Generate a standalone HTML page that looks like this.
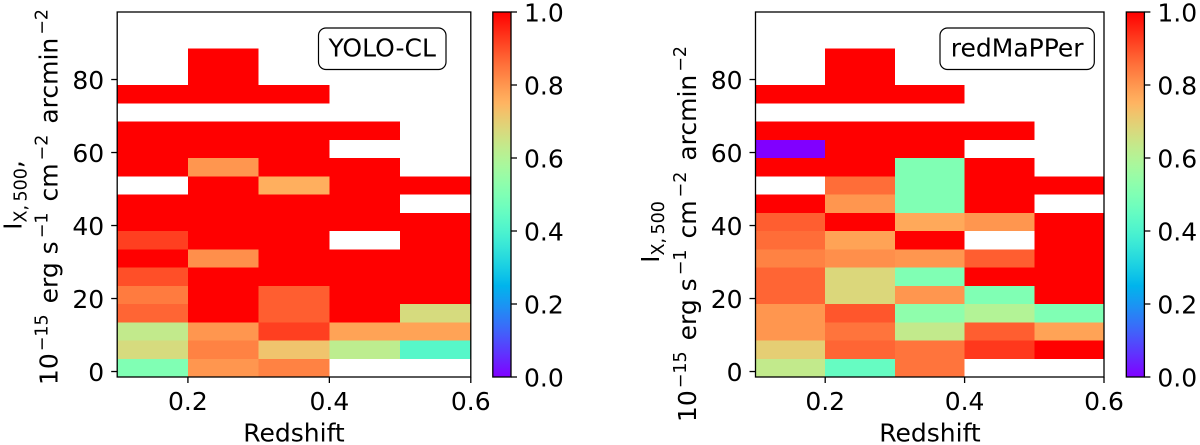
<!DOCTYPE html>
<html lang="en">
<head>
<meta charset="utf-8">
<title>Completeness heatmaps</title>
<style>
html,body{margin:0;padding:0;background:#fff;width:1200px;height:445px;overflow:hidden}
svg{display:block}
text{font-family:"DejaVu Sans","Liberation Sans",sans-serif;fill:#000}
</style>
</head>
<body>
<svg id="fig" xmlns="http://www.w3.org/2000/svg" width="1200" height="445" viewBox="0 0 1200 445">
  <defs>
    <linearGradient id="rainbow-grad" x1="0" y1="1" x2="0" y2="0"></linearGradient>
  </defs>

  <text transform="translate(21.7,195) rotate(-90)" text-anchor="middle" font-size="25">I<tspan font-size="17.5" dy="5">X,&#8201;500</tspan><tspan dy="-5">,</tspan></text>
  <text transform="translate(57.5,197) rotate(-90)" text-anchor="middle" font-size="25">10<tspan font-size="17.5" dy="-10" dx="2">−15</tspan><tspan dy="10" dx="3"> erg</tspan><tspan> s</tspan><tspan font-size="17.5" dy="-10" dx="3">−1</tspan><tspan dy="10" dx="3"> cm</tspan><tspan font-size="17.5" dy="-10" dx="3">−2</tspan><tspan dy="10" dx="3"> arcmin</tspan><tspan font-size="17.5" dy="-10" dx="3">−2</tspan></text>
  <text x="294" y="441.5" text-anchor="middle" font-size="25">Redshift</text>

  <text transform="translate(659,232) rotate(-90)" text-anchor="middle" font-size="25">I<tspan font-size="17.5" dy="5">X,&#8201;500</tspan></text>
  <text transform="translate(696,234) rotate(-90)" text-anchor="middle" font-size="25">10<tspan font-size="17.5" dy="-10" dx="2">−15</tspan><tspan dy="10" dx="3"> erg</tspan><tspan> s</tspan><tspan font-size="17.5" dy="-10" dx="3">−1</tspan><tspan dy="10" dx="3"> cm</tspan><tspan font-size="17.5" dy="-10" dx="3">−2</tspan><tspan dy="10" dx="3"> arcmin</tspan><tspan font-size="17.5" dy="-10" dx="3">−2</tspan></text>
  <text x="930" y="441.5" text-anchor="middle" font-size="25">Redshift</text>

  <g id="plots"></g>

  <g>
    <rect x="318.5" y="28" width="127.5" height="41.5" rx="7.5" ry="7.5" fill="#fff" stroke="#000" stroke-width="1.2"></rect>
    <text x="382.2" y="56.5" text-anchor="middle" font-size="25">YOLO-CL</text>
  </g>
  <g>
    <rect x="940" y="28" width="154.3" height="41.5" rx="7.5" ry="7.5" fill="#fff" stroke="#000" stroke-width="1.2"></rect>
    <text x="1017.2" y="56.5" text-anchor="middle" font-size="25">redMaPPer</text>
  </g>
</svg>

<script>
// Bin edges (data units)
const redshiftEdges = [0.1, 0.2, 0.3, 0.4, 0.5, 0.6];
const intensityEdges = [-1.5, 3.5, 8.5, 13.5, 18.5, 23.5, 28.5, 33.5, 38.5, 43.5, 48.5, 53.5, 58.5, 63.5, 68.5, 73.5, 78.5, 83.5, 88.5];

// Tick labels
const xTicks = [0.2, 0.4, 0.6];
const yTicks = [0, 20, 40, 60, 80];
const colorbarTicks = [0.0, 0.2, 0.4, 0.6, 0.8, 1.0];

// Completeness, one row per intensity bin (bottom to top), one column per redshift bin
const yoloValues = [
  [0.50, 0.80, 0.83, null, null],
  [0.67, 0.83, 0.72, 0.62, 0.42],
  [0.63, 0.80, 0.92, 0.78, 0.78],
  [0.87, 1.00, 0.88, 1.00, 0.67],
  [0.84, 1.00, 0.88, 1.00, 1.00],
  [0.90, 1.00, 1.00, 1.00, 1.00],
  [1.00, 0.81, 1.00, 1.00, 1.00],
  [0.92, 1.00, 1.00, null, 1.00],
  [1.00, 1.00, 1.00, 1.00, 1.00],
  [1.00, 1.00, 1.00, 1.00, null],
  [null, 1.00, 0.76, 1.00, 1.00],
  [1.00, 0.80, 1.00, 1.00, null],
  [1.00, 1.00, 1.00, null, null],
  [1.00, 1.00, 1.00, 1.00, null],
  [null, null, null, null, null],
  [1.00, 1.00, 1.00, null, null],
  [null, 1.00, null, null, null],
  [null, 1.00, null, null, null]
];
const redmapperValues = [
  [0.63, 0.45, 0.85, null, null],
  [0.70, 0.87, 0.85, 0.93, 1.00],
  [0.80, 0.85, 0.63, 0.88, 0.78],
  [0.80, 0.89, 0.53, 0.60, 0.50],
  [0.87, 0.68, 0.80, 0.50, 1.00],
  [0.87, 0.68, 0.50, 1.00, 1.00],
  [0.83, 0.81, 0.80, 0.88, 1.00],
  [0.86, 0.78, 1.00, null, 1.00],
  [0.88, 1.00, 0.77, 0.80, 1.00],
  [1.00, 0.80, 0.50, 1.00, null],
  [null, 0.86, 0.50, 1.00, 1.00],
  [1.00, 1.00, 0.50, 1.00, null],
  [0.00, 1.00, 1.00, null, null],
  [1.00, 1.00, 1.00, 1.00, null],
  [null, null, null, null, null],
  [1.00, 1.00, 1.00, null, null],
  [null, 1.00, null, null, null],
  [null, 1.00, null, null, null]
];

const SVG_NS = 'http://www.w3.org/2000/svg';
const yLimits = [-1.5, 98.5];
const xLimits = [0.1, 0.6];
const cLimits = [0, 1];
const AXIS_TOP = 12;
const AXIS_BOTTOM = 377;
const TICK_LEN = 6;
const FONT_SIZE = 25;

function rainbow(v) {
  const clip = function (c) { return Math.round(255 * Math.max(0, Math.min(1, c))); };
  const r = clip(Math.abs(2 * v - 0.5));
  const g = clip(Math.sin(Math.PI * v));
  const b = clip(Math.cos(Math.PI * v / 2));
  return 'rgb(' + r + ',' + g + ',' + b + ')';
}

function make(tag, attrs, parent) {
  const el = document.createElementNS(SVG_NS, tag);
  for (const key in attrs) { el.setAttribute(key, attrs[key]); }
  parent.appendChild(el);
  return el;
}

function yScale(v) {
  return AXIS_BOTTOM - (v - yLimits[0]) / (yLimits[1] - yLimits[0]) * (AXIS_BOTTOM - AXIS_TOP);
}
function cScale(v) {
  return AXIS_BOTTOM - (v - cLimits[0]) / (cLimits[1] - cLimits[0]) * (AXIS_BOTTOM - AXIS_TOP);
}

// Colorbar gradient stops sampled from the colormap function
const grad = document.getElementById('rainbow-grad');
for (let i = 0; i <= 40; i++) {
  make('stop', { offset: (i / 40), 'stop-color': rainbow(i / 40) }, grad);
}

function drawHeatmap(prefix, values, left, right, cbLeft, cbRight) {
  const root = document.getElementById('plots');
  const xScale = function (v) {
    return left + (v - xLimits[0]) / (xLimits[1] - xLimits[0]) * (right - left);
  };

  const plot = make('g', {}, root);
  
  

  values.forEach(function (row, r) {
    row.forEach(function (value, c) {
      if (value === null) { return; }
      const x0 = xScale(redshiftEdges[c]);
      const x1 = xScale(redshiftEdges[c + 1]);
      const y1 = yScale(intensityEdges[r]);
      const y0 = yScale(intensityEdges[r + 1]);
      const cell = make('rect', {
        x: x0, y: y0, width: x1 - x0, height: y1 - y0,
        fill: rainbow(value), 'shape-rendering': 'crispEdges'
      }, plot);
      
      
    });
  });

  const spine = make('rect', {
    x: left, y: AXIS_TOP, width: right - left, height: AXIS_BOTTOM - AXIS_TOP,
    fill: 'none', stroke: '#000', 'stroke-width': 1.3
  }, root);
  
  

  xTicks.forEach(function (t) {
    const px = xScale(t);
    const mark = make('line', {
      x1: px, x2: px, y1: AXIS_BOTTOM, y2: AXIS_BOTTOM + TICK_LEN,
      stroke: '#000', 'stroke-width': 1.3
    }, root);
    
    
    const label = make('text', {
      x: px, y: 410, 'text-anchor': 'middle', 'font-size': FONT_SIZE
    }, root);
    
    
    label.textContent = t.toFixed(1);
  });

  yTicks.forEach(function (t) {
    const py = yScale(t);
    const mark = make('line', {
      x1: left - TICK_LEN, x2: left, y1: py, y2: py,
      stroke: '#000', 'stroke-width': 1.3
    }, root);
    
    
    const label = make('text', {
      x: left - 13, y: py + 9.3, 'text-anchor': 'end', 'font-size': FONT_SIZE
    }, root);
    
    
    label.textContent = String(t);
  });

  const bar = make('rect', {
    x: cbLeft, y: AXIS_TOP, width: cbRight - cbLeft, height: AXIS_BOTTOM - AXIS_TOP,
    fill: 'url(#rainbow-grad)', stroke: '#000', 'stroke-width': 1.3
  }, root);
  
  

  colorbarTicks.forEach(function (t) {
    const py = cScale(t);
    const mark = make('line', {
      x1: cbRight, x2: cbRight + TICK_LEN, y1: py, y2: py,
      stroke: '#000', 'stroke-width': 1.3
    }, root);
    
    
    const label = make('text', {
      x: cbRight + 13, y: py + 9.6, 'font-size': FONT_SIZE
    }, root);
    
    
    label.textContent = t.toFixed(1);
  });
}

drawHeatmap('yolo-cl', yoloValues, 117.2, 470.8, 492.8, 511);
drawHeatmap('redmapper', redmapperValues, 755.5, 1104, 1126.3, 1144.4);
</script>
</body>
</html>
